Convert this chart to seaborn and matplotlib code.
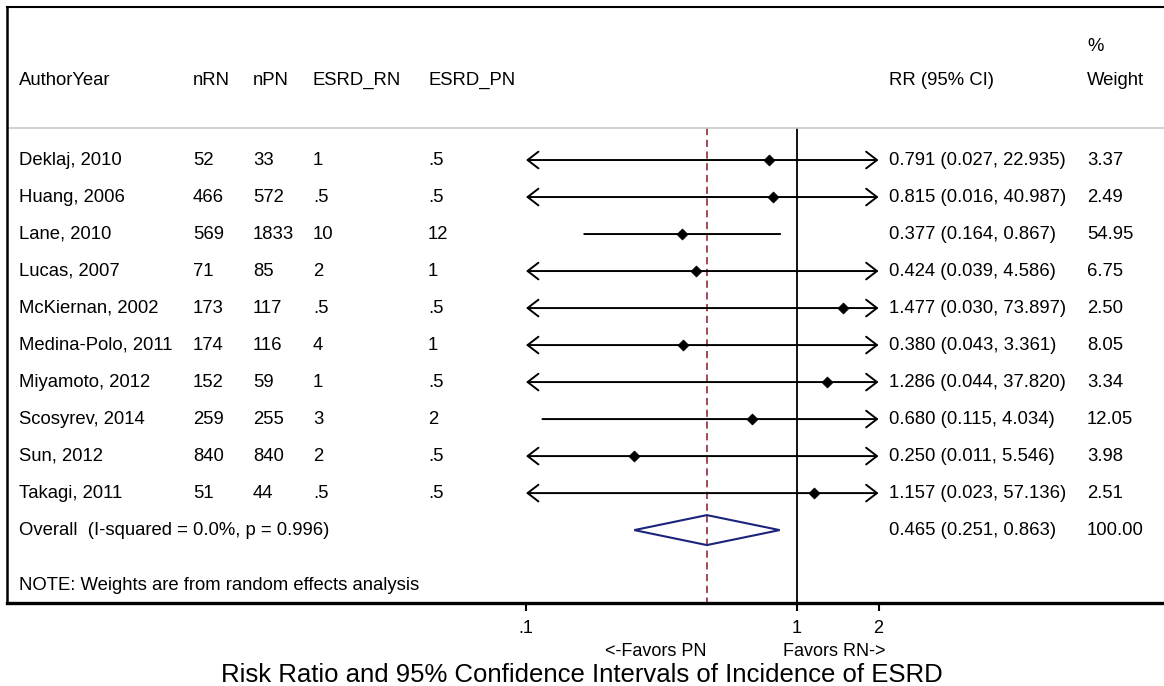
import numpy as np
import pandas as pd
import matplotlib
matplotlib.use("Agg")
import matplotlib.pyplot as plt
import matplotlib.transforms as mtransforms
from matplotlib.patches import Polygon
from matplotlib.ticker import NullLocator
import seaborn as sns

# study level data
studies = ["Deklaj, 2010", "Huang, 2006", "Lane, 2010", "Lucas, 2007", "McKiernan, 2002",
           "Medina-Polo, 2011", "Miyamoto, 2012", "Scosyrev, 2014", "Sun, 2012", "Takagi, 2011"]
n_rn = ["52", "466", "569", "71", "173", "174", "152", "259", "840", "51"]
n_pn = ["33", "572", "1833", "85", "117", "116", "59", "255", "840", "44"]
esrd_rn = ["1", ".5", "10", "2", ".5", "4", "1", "3", "2", ".5"]
esrd_pn = [".5", ".5", "12", "1", ".5", "1", ".5", "2", ".5", ".5"]
rr = [0.791, 0.815, 0.377, 0.424, 1.477, 0.380, 1.286, 0.680, 0.250, 1.157]
ci_lo = [0.027, 0.016, 0.164, 0.039, 0.030, 0.043, 0.044, 0.115, 0.011, 0.023]
ci_hi = [22.935, 40.987, 0.867, 4.586, 73.897, 3.361, 37.820, 4.034, 5.546, 57.136]
weight = [3.37, 2.49, 54.95, 6.75, 2.50, 8.05, 3.34, 12.05, 3.98, 2.51]

# pooled estimate
overall_label = "Overall  (I-squared = 0.0%, p = 0.996)"
overall_rr, overall_lo, overall_hi, overall_w = 0.465, 0.251, 0.863, 100.00

headers = ["AuthorYear", "nRN", "nPN", "ESRD_RN", "ESRD_PN"]
xticks = [0.1, 1, 2]
xtick_labels = [".1", "1", "2"]

df = pd.DataFrame({"study": studies, "nRN": n_rn, "nPN": n_pn, "ESRD_RN": esrd_rn,
                   "ESRD_PN": esrd_pn, "rr": rr, "lo": ci_lo, "hi": ci_hi, "w": weight})
df["row"] = np.arange(1, len(df) + 1)
overall_row = len(df) + 1

sns.set_theme(style="white")
plt.rcParams['font.family'] = ['Liberation Sans', 'DejaVu Sans']
plt.rcParams['text.color'] = 'black'

W, H = 1164, 686
fig = plt.figure(figsize=(W / 100, H / 100), dpi=100)
ax = fig.add_axes([7 / W, 1 - 603 / H, 1157 / W, 596 / H])
ax.set_xscale('log')
ax.set_xlim(10 ** (-790 / 271), 10 ** (367 / 271))
ax.set_ylim(12.97, -3.135)

FS = 13.3
clip_lo, clip_hi = 0.1, 2
maroon = '#9b3b45'
navy = '#1c237a'

# confidence intervals, with arrows where they run off the scale
for _, r in df.iterrows():
    left = max(r.lo, clip_lo)
    right = min(r.hi, clip_hi)
    style = ('<' if r.lo < clip_lo else '') + '-' + ('>' if r.hi > clip_hi else '')
    if style != '-':
        style += ',head_length=0.65,head_width=0.5'
    ax.annotate('', xy=(right, r.row), xytext=(left, r.row),
                arrowprops=dict(arrowstyle=style, lw=1.4, color='black',
                                shrinkA=0, shrinkB=0))

sns.scatterplot(data=df, x="rr", y="row", marker='D', s=32, color='black',
                edgecolor='black', ax=ax, zorder=5, legend=False)

# pooled diamond
h = 0.405
ax.add_patch(Polygon([(overall_lo, overall_row), (overall_rr, overall_row - h),
                      (overall_hi, overall_row), (overall_rr, overall_row + h)],
                     closed=True, fill=False, edgecolor=navy, lw=1.5, zorder=4))

# reference lines
ax.vlines(1, 0.135, 12.97, color='black', lw=1.3, zorder=2)
ax.vlines(overall_rr, 0.135, 12.97, color=maroon, lw=1.3, linestyles=(0, (4, 2.5)), zorder=2)
ax.axhline(0.135, color='#c8c8c8', lw=1.2)

# text columns
trans = mtransforms.blended_transform_factory(ax.transAxes, ax.transData)
def fx(px):
    return (px - 7) / 1157

col_px = [19, 193, 253, 313, 428]
for name, px in zip(headers, col_px):
    ax.text(fx(px), -1.16, name, transform=trans, va='center', fontsize=FS)
ax.text(fx(889), -1.16, "RR (95% CI)", transform=trans, va='center', fontsize=FS)
ax.text(fx(1087), -2.08, "%", transform=trans, va='center', fontsize=FS)
ax.text(fx(1087), -1.16, "Weight", transform=trans, va='center', fontsize=FS)

for _, r in df.iterrows():
    for col, px in zip(["study", "nRN", "nPN", "ESRD_RN", "ESRD_PN"], col_px):
        ax.text(fx(px), r.row, r[col], transform=trans, va='center', fontsize=FS)
    ax.text(fx(889), r.row, f"{r.rr:.3f} ({r.lo:.3f}, {r.hi:.3f})",
            transform=trans, va='center', fontsize=FS)
    ax.text(fx(1087), r.row, f"{r.w:.2f}", transform=trans, va='center', fontsize=FS)

ax.text(fx(19), overall_row, overall_label, transform=trans, va='center', fontsize=FS)
ax.text(fx(889), overall_row, f"{overall_rr:.3f} ({overall_lo:.3f}, {overall_hi:.3f})",
        transform=trans, va='center', fontsize=FS)
ax.text(fx(1087), overall_row, f"{overall_w:.2f}", transform=trans, va='center', fontsize=FS)
ax.text(fx(19), 12.5, "NOTE: Weights are from random effects analysis",
        transform=trans, va='center', fontsize=FS)

# axes styling
ax.set_xticks(xticks)
ax.set_xticklabels(xtick_labels)
ax.xaxis.set_minor_locator(NullLocator())
ax.set_yticks([])
ax.set_xlabel("")
ax.set_ylabel("")
ax.tick_params(axis='x', bottom=True, direction='out', length=6, width=1.5,
               pad=6, labelsize=13, colors='black')
for side, lw in [("left", 1.8), ("top", 1.5), ("bottom", 2.4)]:
    ax.spines[side].set_color('black')
    ax.spines[side].set_linewidth(lw)
ax.spines["right"].set_visible(False)

fig.text(656 / W, 1 - 651 / H, "<-Favors PN", ha='center', va='center', fontsize=13)
fig.text(834 / W, 1 - 651 / H, "Favors RN->", ha='center', va='center', fontsize=13)
fig.text(0.5, 1 - 675 / H, "Risk Ratio and 95% Confidence Intervals of Incidence of ESRD",
         ha='center', va='center', fontsize=18.5)

fig.savefig("out.png", dpi=100)
